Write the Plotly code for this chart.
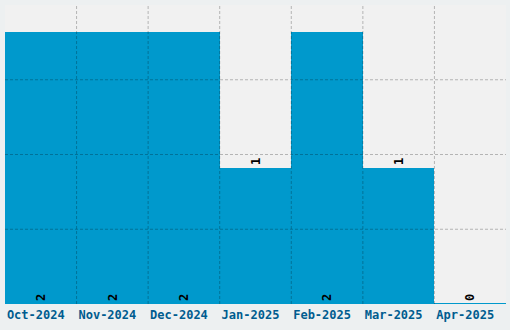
import plotly.graph_objects as go

months = ["Oct-2024", "Nov-2024", "Dec-2024", "Jan-2025", "Feb-2025", "Mar-2025", "Apr-2025"]
counts = [2, 2, 2, 1, 2, 1, 0]
label_pos = ["inside", "inside", "inside", "outside", "inside", "outside", "outside"]

y_max = 2.2
n_hdiv = 4

bar_color = "#0099cc"
line_w = [2 if c == 0 else 0 for c in counts]

fig = go.Figure(go.Bar(
    x=months, y=counts,
    marker=dict(color=bar_color, line=dict(color=bar_color, width=line_w)),
    text=[str(c) for c in counts],
    textposition=label_pos,
    insidetextanchor="start",
    textangle=-90,
    textfont=dict(family="DejaVu Sans Mono", size=12, color="#000000", weight="bold"),
    cliponaxis=False,
))

grid = dict(color="rgba(0,0,0,0.25)", width=1, dash="3px,2px")
shapes = []
for i in range(1, len(months)):
    shapes.append(dict(type="line", xref="x", yref="paper", x0=i - 0.5, x1=i - 0.5, y0=0, y1=1,
                       line=grid, layer="above"))
for k in range(1, n_hdiv):
    yv = y_max * k / n_hdiv
    shapes.append(dict(type="line", xref="paper", yref="y", x0=0, x1=1, y0=yv, y1=yv,
                       line=grid, layer="above"))

fig.update_layout(
    width=510, height=330,
    margin=dict(l=5, r=4, t=5, b=26),
    paper_bgcolor="#edf0f1",
    plot_bgcolor="#f1f1f1",
    bargap=0,
    showlegend=False,
    shapes=shapes,
    xaxis=dict(showgrid=False, zeroline=False, showline=False, ticks="",
               tickfont=dict(family="DejaVu Sans Mono", size=12, color="#005c8f", weight="bold"),
               ticklabelshift=-5, ticklabelstandoff=2,
               range=[-0.5, len(months) - 0.5]),
    yaxis=dict(range=[0, y_max], showgrid=False, zeroline=False, showticklabels=False, ticks=""),
)

fig.write_html("out.html")
